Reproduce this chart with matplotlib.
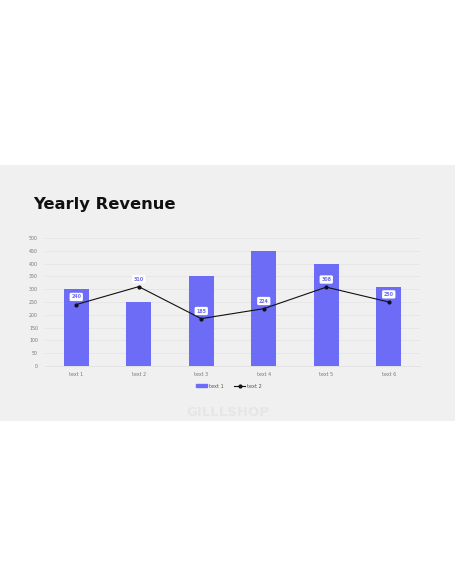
import matplotlib
matplotlib.use("Agg")
import matplotlib.pyplot as plt
from matplotlib.patches import Rectangle
from matplotlib.lines import Line2D

categories = ["text 1", "text 2", "text 3", "text 4", "text 5", "text 6"]
bar_values = [300, 250, 350, 450, 400, 310]
line_values = [240, 310, 185, 224, 308, 250]
y_ticks = list(range(0, 501, 50))

BAR_COLOR = "#6c6cf6"
BG = "#f0f0f0"
W, H = 456, 586

fig = plt.figure(figsize=(W / 100, H / 100), dpi=100)
fig.patch.set_facecolor("white")
# grey slide band behind everything
fig.patches.append(Rectangle((0, 1 - 421 / H), 1, (421 - 165) / H,
                             transform=fig.transFigure, facecolor=BG,
                             edgecolor="none", zorder=-5))

fig.text(33 / W, 1 - 204 / H, "Yearly Revenue", fontsize=11.8,
         fontweight="bold", color="#111111", va="center", ha="left")

ax = fig.add_axes([45 / W, 1 - 366 / H, (420 - 45) / W, (366 - 238) / H])
ax.set_facecolor(BG)
xs = list(range(len(categories)))
ax.bar(xs, bar_values, width=0.4, color=BAR_COLOR, zorder=3, label="text 1")
ax.plot(xs, line_values, color="#111111", lw=0.8, marker="o", ms=2,
        zorder=4, label="text 2")
for x, v in zip(xs, line_values):
    ax.annotate(str(v), (x, v), xytext=(0, 5.5), textcoords="offset points",
                ha="center", va="center", fontsize=3.4, fontweight="bold",
                color=BAR_COLOR, zorder=5,
                bbox=dict(boxstyle="round,pad=0.35,rounding_size=0.3",
                          fc="white", ec="none"))

ax.set_xlim(-0.5, len(categories) - 0.5)
ax.set_ylim(0, 500)
ax.set_yticks(y_ticks)
ax.set_yticklabels([str(t) for t in y_ticks])
ax.set_xticks(xs)
ax.set_xticklabels(categories)
ax.tick_params(length=0, labelsize=3.4, colors="#777777")
ax.tick_params(axis="y", pad=5)
ax.tick_params(axis="x", pad=4)
ax.grid(axis="y", color="#e2e2e2", lw=0.5, zorder=0)
for side in ("top", "right", "left"):
    ax.spines[side].set_visible(False)
ax.spines["bottom"].set_color("#dcdcdc")
ax.spines["bottom"].set_linewidth(0.5)

handles = [Rectangle((0, 0), 1, 1, color=BAR_COLOR),
           Line2D([], [], color="#111111", lw=0.8, marker="o", ms=2)]
fig.legend(handles, ["text 1", "text 2"], loc="center",
           bbox_to_anchor=(229 / W, 1 - 386 / H), ncol=2, frameon=False,
           fontsize=3.6, handlelength=2.2, handleheight=0.5,
           columnspacing=2.2, handletextpad=0.3, labelcolor="#555555")

fig.text(228 / W, 1 - 413 / H, "GILLLSHOP", fontsize=9.5, fontweight="bold",
         color="#e6e6e6", ha="center", va="center")

fig.savefig("out.png", dpi=100, facecolor=fig.get_facecolor())
